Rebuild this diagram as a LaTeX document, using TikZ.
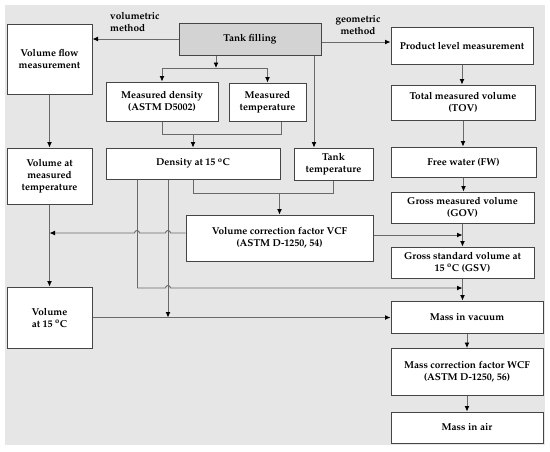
\documentclass[tikz,border=0pt]{standalone}
\usepackage[T1]{fontenc}
\usepackage{mathpazo}
\usetikzlibrary{arrows.meta,calc}
\definecolor{bgc}{HTML}{E6E6E6}
\definecolor{tankc}{HTML}{D3D3D3}
\definecolor{boxc}{HTML}{454545}
\definecolor{linec}{HTML}{6A6A6A}
\begin{document}
\begin{tikzpicture}[x=1pt,y=-1pt,
  box/.style={draw=boxc, line width=1pt, fill=white, align=center,
    font=\bfseries\fontsize{10}{12}\selectfont, inner sep=1pt},
  lbl/.style={font=\bfseries\fontsize{10}{12}\selectfont, inner sep=0pt},
  conn/.style={draw=linec, line width=0.9pt},
  arr/.style={conn, -{Latex[length=5.5pt,width=5pt,color=black]}}]
\useasboundingbox (0,0) rectangle (550,451);
\fill[bgc] (5,5) rectangle (545,445);

% nodes
\node[box, fill=tankc, minimum width=142pt, minimum height=32pt] (tank) at (250,39) {Tank filling};
\node[box, minimum width=85pt, minimum height=70pt] (vfm) at (49.5,59) {Volume flow\\measurement};
\node[box, minimum width=142pt, minimum height=37pt] (plm) at (462,45.5) {Product level measurement};
\node[box, minimum width=112pt, minimum height=39pt] (mdens) at (162,101.5) {Measured density\\(ASTM D5002)};
\node[box, minimum width=77pt, minimum height=38pt] (mtemp) at (267.5,102) {Measured\\temperature};
\node[box, minimum width=144pt, minimum height=35pt] (tov) at (463,102.5) {Total measured volume\\(TOV)};
\node[box, minimum width=85pt, minimum height=56pt] (vmt) at (49.5,176) {Volume at\\measured\\temperature};
\node[box, minimum width=174pt, minimum height=31pt] (dens) at (193,163.5) {Density at 15 \textsuperscript{o}C};
\node[box, minimum width=79pt, minimum height=32pt] (ttemp) at (333.5,164) {Tank\\temperature};
\node[box, minimum width=145pt, minimum height=30pt] (fw) at (463.5,162) {Free water (FW)};
\node[box, minimum width=143pt, minimum height=31pt] (gov) at (462.5,207.5) {Gross measured volume\\(GOV)};
\node[box, minimum width=187pt, minimum height=46pt] (vcf) at (279.5,238) {Volume correction factor VCF\\(ASTM D-1250, 54)};
\node[box, minimum width=143pt, minimum height=31pt] (gsv) at (462.5,262.5) {Gross standard volume at\\15 \textsuperscript{o}C (GSV)};
\node[box, minimum width=85pt, minimum height=61pt] (v15) at (49.5,317.5) {Volume\\at 15 \textsuperscript{o}C};
\node[box, minimum width=152pt, minimum height=32pt] (mvac) at (467,317) {Mass in vacuum};
\node[box, minimum width=152pt, minimum height=47pt] (mcf) at (467,372) {Mass correction factor WCF\\(ASTM D-1250, 56)};
\node[box, minimum width=152pt, minimum height=31pt] (mair) at (467,427.5) {Mass in air};

% labels
\node[lbl, anchor=north west, align=left] (lv) at (110,12) {volumetric\\method};
\node[lbl, align=center] (lg) at (358,25) {geometric\\method};

% helper coordinates
\coordinate (j1) at (216,68);
\coordinate (xt) at (314,0);
\coordinate (j2) at (0,134);
\coordinate (xm) at (281,0);
\coordinate (j3) at (0,193);
\coordinate (yv) at (0,233);
\coordinate (yr) at (0,235);
\coordinate (yd) at (0,288);
\coordinate (xa) at (137,0);
\coordinate (xb) at (168,0);

% top connectors
\draw[arr] (tank.west) -- (tank.west -| vfm.east);
\draw[arr] ([yshift=-3pt]tank.east) -- ([yshift=-3pt]tank.east -| plm.west);
\draw[arr] (tank.south -| j1) -- (j1);
\draw[conn] (mdens.north |- j1) -- (mtemp.north |- j1);
\draw[arr] (mdens.north |- j1) -- (mdens.north);
\draw[arr] (mtemp.north |- j1) -- (mtemp.north);
\draw[arr] (tank.south -| xt) -- (ttemp.north -| xt);

% to density
\draw[conn] (mdens.south) -- (mdens.south |- j2) -- (xm |- j2) -- (mtemp.south -| xm);
\draw[arr] (dens.north |- j2) -- (dens.north);

% to VCF
\draw[conn] (dens.south) -- (dens.south |- j3) -- (ttemp.south |- j3) -- (ttemp.south);
\draw[arr] (vcf.north |- j3) -- (vcf.north);

% left column
\draw[arr] (vfm.south) -- (vmt.north);
\draw[arr] (vmt.south) -- (v15.north);

% density verticals
\draw[conn] (dens.south -| xa) -- (xa |- yd);
\draw[arr] (dens.south -| xb) -- (xb |- v15.east);

% VCF to left, with hops
\draw[arr] (vcf.west |- yv) -- ($(xb |- yv)+(2.5,0)$) arc[start angle=0,end angle=180,radius=2.5pt]
  -- ($(xa |- yv)+(2.5,0)$) arc[start angle=0,end angle=180,radius=2.5pt]
  -- (vmt.south |- yv);
% VCF to right
\draw[arr] (vcf.east |- yr) -- (gov.south |- yr);
% density to GSV/mass line, with hop
\draw[arr] (xa |- yd) -- ($(xb |- yd)+(-2.5,0)$) arc[start angle=180,end angle=0,radius=2.5pt]
  -- (gsv.south |- yd);
% volume at 15 to mass in vacuum
\draw[arr] (v15.east) -- (v15.east -| mvac.west);

% right column
\draw[arr] (plm.south) -- (plm.south |- tov.north);
\draw[arr] (tov.south) -- (tov.south |- fw.north);
\draw[arr] (fw.south) -- (fw.south |- gov.north);
\draw[arr] (gov.south) -- (gov.south |- gsv.north);
\draw[arr] (gsv.south) -- (gsv.south |- mvac.north);
\draw[arr] (mvac.south) -- (mcf.north);
\draw[arr] (mcf.south) -- (mair.north);
\end{tikzpicture}
\end{document}
